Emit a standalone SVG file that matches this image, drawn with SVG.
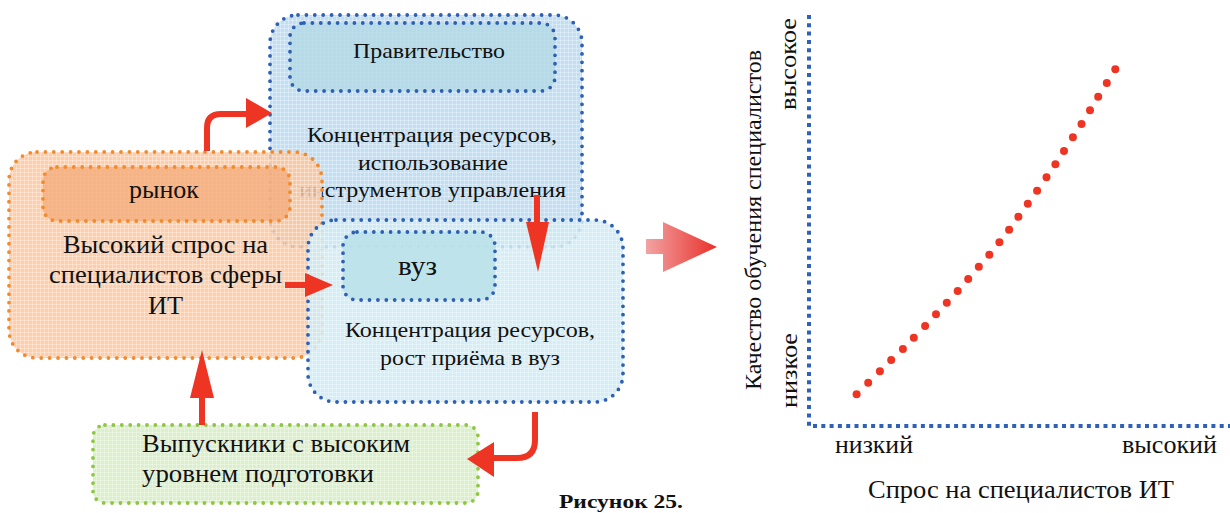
<svg xmlns="http://www.w3.org/2000/svg" width="1230" height="513" viewBox="0 0 1230 513">
<style>
.t{font-family:"Liberation Serif","Times New Roman",serif;fill:#111;}
.box{stroke-linecap:round;stroke-width:3.8;stroke-dasharray:0 8.4;}
.blue{stroke:#2d60b4;}
.orange{stroke:#f28a2e;}
.green{stroke:#8dc63f;}
.arr{fill:#ee3524;}
.shaft{fill:none;stroke:#ee3524;stroke-width:6;}
.axis{fill:none;stroke:#2e62b8;stroke-width:4;stroke-dasharray:4 4.3;}
</style>
<defs>
<pattern id="grid" width="4" height="4" patternUnits="userSpaceOnUse">
<path d="M0 0.5H4M0.5 0V4" stroke="#ffffff" stroke-opacity="0.3" stroke-width="1"/>
</pattern>
<linearGradient id="bigArrow" x1="0" y1="0" x2="1" y2="0">
<stop offset="0" stop-color="#f2a3a3"/>
<stop offset="1" stop-color="#e8302a"/>
</linearGradient>
</defs>

<g id="government">
<rect x="270" y="15" width="312" height="232" rx="28" fill="#bcdaef" fill-opacity="0.9"/>
<rect x="270" y="15" width="312" height="232" rx="28" fill="url(#grid)"/>
<rect x="270" y="15" width="312" height="232" rx="28" fill="none" class="box blue"/>
<rect x="290" y="23" width="265" height="68" rx="14" fill="#b3d9e6" fill-opacity="0.8"/>
<rect x="290" y="23" width="265" height="68" rx="14" fill="none" class="box blue"/>
<text class="t" x="353" y="58" font-size="21" textLength="152" lengthAdjust="spacingAndGlyphs">Правительство</text>
<text class="t" x="307" y="142" font-size="21" textLength="250" lengthAdjust="spacingAndGlyphs">Концентрация ресурсов,</text>
<text class="t" x="358" y="170" font-size="21" textLength="150" lengthAdjust="spacingAndGlyphs">использование</text>
<text class="t" x="299" y="197" font-size="21" textLength="267" lengthAdjust="spacingAndGlyphs">инструментов управления</text>
</g>

<g id="market">
<rect x="9" y="152" width="313" height="206" rx="28" fill="#fbc59d" fill-opacity="0.85"/>
<rect x="9" y="152" width="313" height="206" rx="28" fill="url(#grid)"/>
<rect x="9" y="152" width="313" height="206" rx="28" fill="none" class="box orange"/>
<rect x="43" y="167" width="247" height="54" rx="14" fill="#f4a977" fill-opacity="0.75"/>
<rect x="43" y="167" width="247" height="54" rx="14" fill="none" class="box orange"/>
<text class="t" x="129" y="198" font-size="25" textLength="70" lengthAdjust="spacingAndGlyphs">рынок</text>
<text class="t" x="63" y="253" font-size="25" textLength="205" lengthAdjust="spacingAndGlyphs">Высокий спрос на</text>
<text class="t" x="49" y="283" font-size="25" textLength="233" lengthAdjust="spacingAndGlyphs">специалистов сферы</text>
<text class="t" x="148" y="314" font-size="25" textLength="35" lengthAdjust="spacingAndGlyphs">ИТ</text>
</g>

<g id="vuz">
<rect x="308" y="220" width="315" height="182" rx="28" fill="#cfebf2" fill-opacity="0.88"/>
<rect x="308" y="220" width="315" height="182" rx="28" fill="url(#grid)"/>
<rect x="308" y="220" width="315" height="182" rx="28" fill="none" class="box blue"/>
<rect x="343" y="232" width="152" height="68" rx="14" fill="#b9e0e9" fill-opacity="0.85"/>
<rect x="343" y="232" width="152" height="68" rx="14" fill="none" class="box blue"/>
<text class="t" x="398" y="275" font-size="27" textLength="39" lengthAdjust="spacingAndGlyphs">вуз</text>
<text class="t" x="345" y="337" font-size="21" textLength="250" lengthAdjust="spacingAndGlyphs">Концентрация ресурсов,</text>
<text class="t" x="380" y="365" font-size="21" textLength="180" lengthAdjust="spacingAndGlyphs">рост приёма в вуз</text>
</g>

<g id="graduates">
<rect x="93" y="425" width="385" height="78" rx="12" fill="#dcefcd"/>
<rect x="93" y="425" width="385" height="78" rx="12" fill="url(#grid)"/>
<rect x="93" y="425" width="385" height="78" rx="12" fill="none" class="box green"/>
<text class="t" x="142" y="452" font-size="25" textLength="268" lengthAdjust="spacingAndGlyphs">Выпускники с высоким</text>
<text class="t" x="142" y="482" font-size="25" textLength="232" lengthAdjust="spacingAndGlyphs">уровнем подготовки</text>
</g>

<g id="connectors">
<path class="shaft" d="M207,151 L207,128 Q207,114 221,114 L248,114"/>
<polygon class="arr" points="246,98 272,113 246,128"/>
<path class="shaft" d="M537,195 L537,226"/>
<polygon class="arr" points="526,222 549,222 538,272"/>
<path class="shaft" d="M285,285 L307,285"/>
<polygon class="arr" points="305,273 333,285 305,297"/>
<path class="shaft" d="M202,425 L202,396"/>
<polygon class="arr" points="190,398 214,398 202,350"/>
<path class="shaft" d="M535,412 L535,440 Q535,458 517,458 L492,458"/>
<polygon class="arr" points="494,442 467,459 494,477"/>
<polygon points="646,239 663,239 663,222 717,247 663,272 663,254 646,254" fill="url(#bigArrow)"/>
</g>

<text class="t" x="559" y="508" font-size="19" font-weight="bold" textLength="124" lengthAdjust="spacingAndGlyphs">Рисунок 25.</text>

<g id="chart">
<path class="axis" d="M809,15 L809,426 L1230,426"/>
<g fill="#ee3524">
<circle cx="856.6" cy="394.3" r="4"/><circle cx="868.2" cy="382.7" r="4"/><circle cx="879.9" cy="371.3" r="4"/><circle cx="891.2" cy="360" r="4"/><circle cx="902.9" cy="349" r="4"/><circle cx="913.8" cy="337.7" r="4"/><circle cx="925.1" cy="326" r="4"/><circle cx="936" cy="314.3" r="4"/><circle cx="946.8" cy="302.7" r="4"/><circle cx="957.7" cy="291" r="4"/><circle cx="968.2" cy="279" r="4"/><circle cx="978.8" cy="266.7" r="4"/><circle cx="989.3" cy="254.7" r="4"/><circle cx="999.4" cy="242.3" r="4"/><circle cx="1009.1" cy="229.7" r="4"/><circle cx="1018.4" cy="216.7" r="4"/><circle cx="1027.8" cy="203.7" r="4"/><circle cx="1037.1" cy="190.7" r="4"/><circle cx="1046.5" cy="177.3" r="4"/><circle cx="1055.4" cy="164.3" r="4"/><circle cx="1064" cy="151" r="4"/><circle cx="1072.9" cy="137.3" r="4"/><circle cx="1081.5" cy="124" r="4"/><circle cx="1090" cy="110.3" r="4"/><circle cx="1098.2" cy="96.7" r="4"/><circle cx="1106.8" cy="83" r="4"/><circle cx="1115.3" cy="69.3" r="4"/>
</g>
<text class="t" font-size="24" transform="translate(761,390) rotate(-90)" textLength="340" lengthAdjust="spacingAndGlyphs">Качество обучения специалистов</text>
<text class="t" font-size="24" transform="translate(796,110) rotate(-90)" textLength="92" lengthAdjust="spacingAndGlyphs">высокое</text>
<text class="t" font-size="24" transform="translate(797,408) rotate(-90)" textLength="75" lengthAdjust="spacingAndGlyphs">низкое</text>
<text class="t" x="835" y="453" font-size="25" textLength="78" lengthAdjust="spacingAndGlyphs">низкий</text>
<text class="t" x="1122" y="453" font-size="25" textLength="95" lengthAdjust="spacingAndGlyphs">высокий</text>
<text class="t" x="868" y="498" font-size="26" textLength="306" lengthAdjust="spacingAndGlyphs">Спрос на специалистов ИТ</text>
</g>
</svg>
